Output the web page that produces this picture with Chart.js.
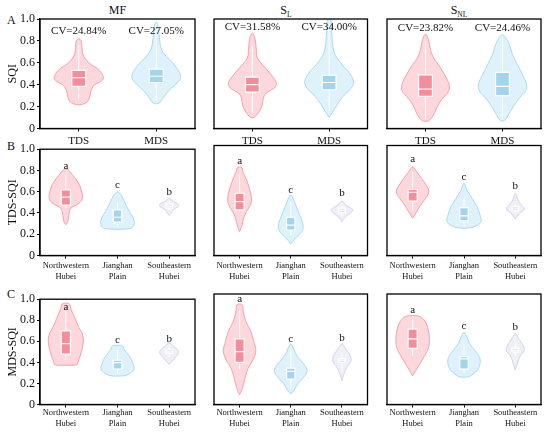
<!DOCTYPE html>
<html><head><meta charset="utf-8">
<script src="https://cdn.jsdelivr.net/npm/chart.js@4.4.0/dist/chart.umd.min.js"></script>
<style>
html,body{margin:0;padding:0;background:#fff;}
#wrap{position:relative;width:550px;height:434px;overflow:hidden;font-family:'Liberation Serif',serif;}
canvas{position:absolute;}
.t{position:absolute;font-size:12px;color:#111;line-height:12px;white-space:nowrap;}
.c{transform:translateX(-50%);}
.t sub{font-size:7.5px;vertical-align:-3px;line-height:0;}
</style></head><body>
<div id="wrap">
  <div class="t c" style="left:117.5px;top:4px;">MF</div>
  <div class="t c" style="left:286px;top:4px;">S<sub>L</sub></div>
  <div class="t c" style="left:459px;top:4px;">S<sub>NL</sub></div>
  <div class="t" style="left:7px;top:14px;">A</div>
  <div class="t" style="left:7px;top:139.5px;">B</div>
  <div class="t" style="left:7px;top:288px;">C</div>
</div>
<script>
// ---------- DATA ----------
const SOIL_TYPES = ['MF', 'S_L', 'S_NL'];
const A_CATS = ['TDS', 'MDS'];
const REGION_CATS = [['Northwestern', 'Hubei'], ['Jianghan', 'Plain'], ['Southeastern', 'Hubei']];
const A_CV = [['CV=24.84%', 'CV=27.05%'], ['CV=31.58%', 'CV=34.00%'], ['CV=23.82%', 'CV=24.46%']];
const A_CV_Y = [[0.89, 0.89], [0.925, 0.925], [0.92, 0.92]];
const SIG_LETTERS = ['a', 'c', 'b'];
const B_LETTER_Y = [[0.84, 0.66, 0.60], [0.86, 0.595, 0.565], [0.875, 0.71, 0.63]];
const C_LETTER_Y = [[0.925, 0.61, 0.62], [0.955, 0.59, 0.60], [0.855, 0.71, 0.70]];

// violin density profiles: [SQI value, density]
const A_MF_TDS = [[0.215,0],[0.225,5],[0.248,9],[0.294,11],[0.355,12.5],[0.40,16],[0.43,22],[0.46,24.5],[0.507,22.5],[0.55,18],[0.60,10],[0.675,4.3],[0.765,3],[0.80,2.5],[0.82,0]];
const A_MF_MDS = [[0.225,0],[0.233,3],[0.28,7],[0.34,12],[0.40,19],[0.446,23.5],[0.49,24],[0.57,19],[0.63,13],[0.69,7],[0.765,4],[0.89,2.5],[0.95,1.5],[0.975,0]];
const A_SL_TDS = [[0.096,0],[0.11,3],[0.157,7],[0.217,10],[0.28,11],[0.324,14],[0.37,22],[0.415,24],[0.477,20],[0.553,13],[0.644,5],[0.735,3.8],[0.826,2.5],[0.872,0]];
const A_SL_MDS = [[0.102,0],[0.142,3],[0.217,8],[0.294,14],[0.354,21],[0.415,24.5],[0.49,21.7],[0.583,13],[0.674,6],[0.765,3.5],[0.89,2.5],[1.0,1.5]];
const A_SNL_TDS = [[0.066,0],[0.07,3],[0.096,6],[0.142,9],[0.203,12],[0.263,16],[0.324,22],[0.37,24],[0.431,22.5],[0.507,18],[0.583,13],[0.644,8],[0.72,5],[0.81,3],[0.863,0]];
const A_SNL_MDS = [[0.066,0],[0.08,3],[0.126,6],[0.203,11],[0.28,17],[0.34,23],[0.40,24.2],[0.49,20],[0.583,15],[0.674,10],[0.765,7],[0.82,4],[0.857,0]];

const B_MF_NW = [[0.29,0],[0.32,2],[0.383,3],[0.444,5],[0.49,13],[0.535,16.5],[0.595,16],[0.67,13.3],[0.73,9],[0.777,5],[0.80,3],[0.814,0]];
const B_MF_JP = [[0.245,0],[0.255,13],[0.277,16],[0.323,16.7],[0.383,14],[0.444,10],[0.505,7],[0.565,4],[0.59,1.5],[0.60,0]];
const B_MF_SE = [[0.377,0],[0.40,2],[0.43,4],[0.46,9],[0.48,9.5],[0.51,4],[0.535,0]];
const B_SL_NW = [[0.216,0],[0.277,2.5],[0.338,4],[0.40,7],[0.444,10],[0.505,12],[0.595,10.3],[0.686,7],[0.762,3.3],[0.795,2.5],[0.807,0]];
const B_SL_JP = [[0.105,0],[0.14,3],[0.186,8],[0.232,12],[0.293,12],[0.368,9],[0.444,5.5],[0.505,3],[0.55,0]];
const B_SL_SE = [[0.307,0],[0.347,3],[0.383,8],[0.414,11],[0.459,4],[0.495,0]];
const B_SNL_NW = [[0.338,0],[0.398,4],[0.459,8],[0.52,13],[0.58,16.3],[0.64,13.5],[0.70,9],[0.762,4],[0.807,0]];
const B_SNL_JP = [[0.247,0],[0.255,8],[0.268,12],[0.307,17],[0.368,16],[0.444,13],[0.52,8],[0.595,3],[0.656,0]];
const B_SNL_SE = [[0.33,0],[0.36,2],[0.39,5],[0.423,9],[0.459,6],[0.505,2.5],[0.565,0]];

const C_MF_NW = [[0.372,0],[0.378,11],[0.40,12],[0.44,13.5],[0.50,15.5],[0.563,17],[0.62,17.5],[0.68,16],[0.73,13],[0.82,9],[0.91,5],[0.955,3.5],[0.962,0]];
const C_MF_JP = [[0.27,0],[0.275,8],[0.30,13],[0.337,16.5],[0.397,15],[0.457,12],[0.518,7],[0.555,5],[0.563,0]];
const C_MF_SE = [[0.382,0],[0.412,3],[0.457,7],[0.502,9.5],[0.548,5],[0.584,0]];
const C_SL_NW = [[0.089,0],[0.125,2],[0.186,4],[0.26,6],[0.337,9],[0.412,14],[0.487,16.3],[0.578,14],[0.668,11],[0.758,6],[0.849,3.5],[0.90,3],[0.91,0]];
const C_SL_JP = [[0.095,0],[0.125,3],[0.186,7],[0.246,13],[0.306,16.5],[0.367,13],[0.442,6],[0.502,3],[0.548,0]];
const C_SL_SE = [[0.216,0],[0.276,2],[0.337,5],[0.39,9],[0.442,8.5],[0.50,4],[0.548,0]];
const C_SNL_NW = [[0.26,0],[0.306,3],[0.367,7],[0.442,12],[0.518,16],[0.608,16.7],[0.698,15],[0.758,12],[0.795,7.5],[0.805,0]];
const C_SNL_JP = [[0.248,0],[0.252,5],[0.306,13],[0.367,16],[0.427,15.5],[0.487,11],[0.548,6],[0.608,3],[0.653,0]];
const C_SNL_SE = [[0.312,0],[0.382,2.5],[0.442,5],[0.487,9],[0.532,8],[0.593,3.5],[0.644,0]];

// box stats: [lower whisker, Q1, median, Q3, upper whisker]
const A_MF_BOX = [[0.27,0.385,0.464,0.53,0.765],[0.25,0.42,0.477,0.543,0.93]];
const A_SL_BOX = [[0.143,0.333,0.40,0.47,0.757],[0.16,0.354,0.42,0.486,0.95]];
const A_SNL_BOX = [[0.08,0.294,0.36,0.49,0.80],[0.08,0.30,0.385,0.513,0.83]];
const B_MF_BOX = [[0.444,0.474,0.55,0.616,0.77],[0.277,0.314,0.36,0.43,0.50],[0.43,0.445,0.465,0.485,0.51]];
const B_SL_BOX = [[0.40,0.414,0.49,0.565,0.74],[0.18,0.232,0.277,0.347,0.49],[0.36,0.39,0.41,0.43,0.46]];
const B_SNL_BOX = [[0.41,0.495,0.575,0.60,0.76],[0.27,0.316,0.36,0.435,0.52],[0.39,0.405,0.425,0.445,0.47]];
const C_MF_BOX = [[0.427,0.478,0.578,0.70,0.88],[0.30,0.337,0.397,0.42,0.52],[0.45,0.485,0.50,0.52,0.55]];
const C_SL_BOX = [[0.32,0.382,0.478,0.593,0.85],[0.14,0.23,0.30,0.33,0.49],[0.30,0.38,0.40,0.415,0.47]];
const C_SNL_BOX = [[0.44,0.508,0.593,0.683,0.77],[0.29,0.32,0.412,0.433,0.55],[0.44,0.475,0.49,0.51,0.55]];

const Y_TICKS = [0, 0.2, 0.4, 0.6, 0.8, 1.0];

// ---------- STYLE / LAYOUT ----------
Chart.defaults.font.family = "'Liberation Serif', serif";
Chart.defaults.color = '#111';
const PINK = {stroke:'#f5a0aa', fill:'rgba(251,200,206,0.72)', box:'#f48d99'};
const BLUE = {stroke:'#a6dbef', fill:'rgba(212,238,249,0.75)', box:'#a2d5ec'};
const LAV  = {stroke:'#d2d2ea', fill:'rgba(236,236,247,0.85)', box:'#e0e0f0'};
const COLS = [{left:0,w:200,padL:0,padR:5},{left:204,w:168,padL:10,padR:4.5},{left:377,w:169,padL:10,padR:5}];
const ROWS = [
  {top:0,h:150,padT:19,axisH:21.5,fs:11,tickPad:3,yTitle:'SQI'},
  {top:140,h:150,padT:5.5,axisH:34.5,fs:8.5,tickPad:2.5,yTitle:'TDS-SQI'},
  {top:290,h:144,padT:4,axisH:29.5,fs:8.5,tickPad:0.5,yTitle:'MDS-SQI'}
];
const PLOT_W = 154;

function outline(profile, c, k) {
  const right = profile.map(([v, d]) => ({x: c + d * k, y: v}));
  const rev = profile.slice().reverse();
  if (rev[0][1] === 0) rev.shift();
  const left = rev.map(([v, d]) => ({x: c - d * k, y: v}));
  return right.concat(left);
}

const framePlugin = {
  id: 'frame',
  afterDraw(chart) {
    const {ctx, chartArea: a} = chart;
    ctx.save();
    ctx.strokeStyle = '#000';
    ctx.lineWidth = 1.3;
    ctx.strokeRect(a.left, a.top, a.right - a.left, a.bottom - a.top);
    ctx.restore();
  }
};
const textPlugin = {
  id: 'texts',
  afterDatasetsDraw(chart, args, opts) {
    const {ctx} = chart;
    const xs = chart.scales.x, ys = chart.scales.y;
    ctx.save();
    ctx.fillStyle = '#111';
    ctx.textAlign = 'center';
    ctx.textBaseline = 'middle';
    (opts.items || []).forEach(it => {
      ctx.font = it.size + "px 'Liberation Serif', serif";
      ctx.fillText(it.text, xs.getPixelForValue(it.x), ys.getPixelForValue(it.y));
    });
    ctx.restore();
  }
};

function makePanel(ri, ci, profiles, boxes, colors, catLabels, texts, boxHW) {
  const R = ROWS[ri], C = COLS[ci];
  const cv = document.createElement('canvas');
  cv.width = C.w; cv.height = R.h;
  cv.style.left = C.left + 'px'; cv.style.top = R.top + 'px';
  cv.style.width = C.w + 'px'; cv.style.height = R.h + 'px';
  document.getElementById('wrap').appendChild(cv);
  const n = catLabels.length;
  const k = n / PLOT_W;
  const ds = [];
  profiles.forEach((p, i) => {
    const col = colors[i];
    const b = boxes[i];
    const hw = boxHW[i];
    ds.push({data: outline(p, i, k), borderColor: col.stroke, backgroundColor: col.fill, fill: 'shape',
      borderWidth: 1, tension: 0.35, pointRadius: 0, order: 40 - i});
    ds.push({data: [{x: i, y: b[0]}, {x: i, y: b[4]}], borderColor: '#fff', borderWidth: 1,
      fill: false, tension: 0, pointRadius: 0, order: 30 - i});
    ds.push({data: [{x: i - hw, y: b[1]}, {x: i + hw, y: b[1]}, {x: i + hw, y: b[3]}, {x: i - hw, y: b[3]}, {x: i - hw, y: b[1]}],
      borderColor: '#fff', backgroundColor: col.box, fill: 'shape', borderWidth: 1.2, tension: 0, pointRadius: 0, order: 20 - i});
    ds.push({data: [{x: i - hw, y: b[2]}, {x: i + hw, y: b[2]}], borderColor: '#fff', borderWidth: 1.2,
      fill: false, tension: 0, pointRadius: 0, order: 10 - i});
  });
  const showY = ci === 0;
  new Chart(cv, {
    type: 'line',
    data: {datasets: ds},
    options: {
      responsive: false, animation: false, events: [],
      layout: {padding: {top: R.padT, left: C.padL, right: C.padR, bottom: 0}},
      plugins: {legend: {display: false}, tooltip: {enabled: false}, texts: {items: texts}},
      scales: {
        x: {type: 'linear', min: -0.5, max: n - 0.5,
          afterBuildTicks: s => { s.ticks = catLabels.map((_, i) => ({value: i})); },
          afterFit: s => { s.height = R.axisH; },
          ticks: {callback: v => catLabels[v], font: {size: R.fs}, color: '#111', padding: R.tickPad, maxRotation: 0, autoSkip: false},
          grid: {drawOnChartArea: false, drawTicks: true, tickLength: 3, color: '#000', lineWidth: 1},
          border: {display: true, color: '#000', width: 1.3}},
        y: {type: 'linear', min: 0, max: 1, display: showY,
          afterBuildTicks: s => { s.ticks = Y_TICKS.map(v => ({value: v})); },
          afterFit: s => { s.width = showY ? 40 : 0; },
          ticks: {callback: v => v === 0 ? '0' : v.toFixed(1), font: {size: 12}, color: '#111', padding: 2},
          grid: {drawOnChartArea: false, drawTicks: true, tickLength: 3, color: '#000', lineWidth: 1},
          border: {display: true, color: '#000', width: 1.3},
          title: {display: true, text: R.yTitle, font: {size: 12}, color: '#111', padding: {top: 6, bottom: 0}}}
      }
    },
    plugins: [framePlugin, textPlugin]
  });
}

const A_PROFILES = [[A_MF_TDS, A_MF_MDS], [A_SL_TDS, A_SL_MDS], [A_SNL_TDS, A_SNL_MDS]];
const A_BOXES = [A_MF_BOX, A_SL_BOX, A_SNL_BOX];
const B_PROFILES = [[B_MF_NW, B_MF_JP, B_MF_SE], [B_SL_NW, B_SL_JP, B_SL_SE], [B_SNL_NW, B_SNL_JP, B_SNL_SE]];
const B_BOXES = [B_MF_BOX, B_SL_BOX, B_SNL_BOX];
const C_PROFILES = [[C_MF_NW, C_MF_JP, C_MF_SE], [C_SL_NW, C_SL_JP, C_SL_SE], [C_SNL_NW, C_SNL_JP, C_SNL_SE]];
const C_BOXES = [C_MF_BOX, C_SL_BOX, C_SNL_BOX];

SOIL_TYPES.forEach((_, ci) => {
  makePanel(0, ci, A_PROFILES[ci], A_BOXES[ci], [PINK, BLUE], A_CATS,
    A_CV[ci].map((t, i) => ({x: i, y: A_CV_Y[ci][i], text: t, size: 11})), [0.09, 0.09]);
  makePanel(1, ci, B_PROFILES[ci], B_BOXES[ci], [PINK, BLUE, LAV], REGION_CATS,
    SIG_LETTERS.map((t, i) => ({x: i, y: B_LETTER_Y[ci][i], text: t, size: 11})), [0.089, 0.082, 0.066]);
  makePanel(2, ci, C_PROFILES[ci], C_BOXES[ci], [PINK, BLUE, LAV], REGION_CATS,
    SIG_LETTERS.map((t, i) => ({x: i, y: C_LETTER_Y[ci][i], text: t, size: 11})), [0.089, 0.082, 0.066]);
});
</script>
</body></html>
